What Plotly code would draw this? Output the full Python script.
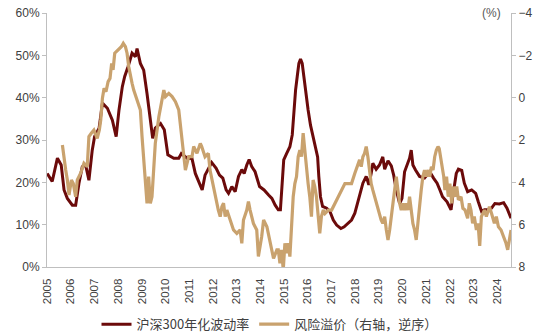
import plotly.graph_objects as go
import pandas as pd

# --- data (fractional year, value) ---
vol_years = [2005.01, 2005.22, 2005.44, 2005.60, 2005.72, 2005.86, 2006.07, 2006.21, 2006.35, 2006.49,
             2006.63, 2006.77, 2006.91, 2007.01, 2007.20, 2007.34, 2007.55, 2007.76, 2007.92, 2008.04,
             2008.18, 2008.28, 2008.42, 2008.59, 2008.73, 2008.80, 2008.94, 2009.08, 2009.22, 2009.36,
             2009.46, 2009.57, 2009.79, 2009.95, 2010.10, 2010.35, 2010.56, 2010.67, 2010.91, 2011.12,
             2011.26, 2011.43, 2011.55, 2011.67, 2011.95, 2012.14, 2012.28, 2012.42, 2012.56, 2012.66,
             2012.80, 2012.94, 2013.08, 2013.22, 2013.32, 2013.43, 2013.53, 2013.64, 2013.78, 2013.97,
             2014.16, 2014.35, 2014.49, 2014.63, 2014.76, 2014.85, 2014.92, 2014.99, 2015.11, 2015.25,
             2015.35, 2015.42, 2015.49, 2015.56, 2015.63, 2015.70, 2015.77, 2015.84, 2015.91, 2016.02,
             2016.12, 2016.23, 2016.35, 2016.42, 2016.47, 2016.54, 2016.63, 2016.80, 2016.94, 2017.08,
             2017.22, 2017.40, 2017.54, 2017.71, 2017.85, 2017.99, 2018.10, 2018.19, 2018.33, 2018.47,
             2018.58, 2018.68, 2018.75, 2018.89, 2019.03, 2019.17, 2019.25, 2019.39, 2019.53, 2019.63,
             2019.74, 2019.88, 2019.98, 2020.09, 2020.19, 2020.30, 2020.37, 2020.44, 2020.55, 2020.72,
             2020.93, 2021.15, 2021.31, 2021.46, 2021.58, 2021.69, 2021.88, 2022.05, 2022.12, 2022.19,
             2022.27, 2022.36, 2022.50, 2022.61, 2022.75, 2022.92, 2023.09, 2023.20, 2023.34, 2023.46,
             2023.62, 2023.76, 2023.90, 2024.09, 2024.27, 2024.41, 2024.51, 2024.58]
vol_values = [22.1, 20.2, 25.7, 24.1, 18.2, 16.2, 14.6, 14.6, 19.8, 23.7,
              24.1, 20.5, 27.6, 30.8, 32.8, 38.7, 37.5, 34.7, 30.8, 37.1,
              42.6, 45.0, 47.3, 50.5, 49.7, 51.6, 48.1, 46.5, 41.0, 34.7,
              30.4, 32.8, 33.9, 32.4, 26.5, 25.7, 25.7, 26.8, 25.7, 25.6,
              22.1, 19.8, 18.2, 21.7, 24.7, 23.3, 21.7, 21.0, 18.2, 17.4,
              19.0, 17.8, 21.4, 23.0, 22.1, 24.1, 25.4, 23.7, 22.5, 19.0,
              18.2, 17.0, 16.2, 14.6, 13.5, 13.5, 19.0, 25.3, 26.8, 28.4,
              31.2, 37.1, 41.8, 45.0, 48.1, 49.1, 48.1, 45.0, 41.4, 37.1,
              33.5, 30.8, 28.4, 26.0, 21.4, 16.6, 14.3, 13.9, 13.1, 11.1,
              9.9, 9.1, 9.5, 10.3, 11.1, 12.7, 15.0, 16.6, 19.8, 21.4,
              19.4, 22.1, 24.5, 23.1, 24.1, 26.0, 23.1, 25.1, 23.9, 21.7,
              18.2, 15.0, 16.2, 22.5, 24.1, 25.7, 27.6, 24.1, 22.9, 21.4,
              21.0, 22.5, 21.0, 19.8, 18.2, 16.6, 15.4, 13.5, 16.6, 19.8,
              22.1, 23.1, 22.8, 19.8, 17.8, 18.2, 17.4, 15.4, 13.1, 13.5,
              13.5, 13.9, 15.0, 14.9, 15.2, 13.9, 12.3, 11.5]

rp_years = [2005.65, 2005.72, 2005.79, 2005.86, 2005.93, 2006.03, 2006.11, 2006.21, 2006.28, 2006.42,
            2006.56, 2006.70, 2006.77, 2006.87, 2006.98, 2007.12, 2007.21, 2007.27, 2007.34, 2007.41,
            2007.49, 2007.58, 2007.66, 2007.73, 2007.79, 2007.86, 2008.00, 2008.14, 2008.22, 2008.31,
            2008.38, 2008.45, 2008.59, 2008.66, 2008.80, 2008.94, 2009.01, 2009.08, 2009.15, 2009.22,
            2009.29, 2009.36, 2009.43, 2009.50, 2009.57, 2009.72, 2009.86, 2009.93, 2010.00, 2010.14,
            2010.28, 2010.42, 2010.56, 2010.63, 2010.70, 2010.77, 2010.84, 2010.98, 2011.12, 2011.19,
            2011.33, 2011.47, 2011.53, 2011.67, 2011.81, 2011.88, 2012.02, 2012.16, 2012.23, 2012.31,
            2012.38, 2012.45, 2012.52, 2012.59, 2012.73, 2012.87, 2013.01, 2013.15, 2013.22, 2013.29,
            2013.43, 2013.50, 2013.57, 2013.71, 2013.85, 2013.92, 2014.06, 2014.14, 2014.28, 2014.42,
            2014.56, 2014.70, 2014.76, 2014.83, 2014.90, 2014.97, 2015.04, 2015.11, 2015.18, 2015.25,
            2015.32, 2015.39, 2015.46, 2015.53, 2015.60, 2015.67, 2015.74, 2015.81, 2015.88, 2015.95,
            2016.02, 2016.09, 2016.16, 2016.23, 2016.30, 2016.37, 2016.44, 2016.51, 2016.58, 2016.66,
            2016.73, 2016.87, 2017.01, 2017.15, 2017.29, 2017.43, 2017.57, 2017.71, 2017.85, 2017.99,
            2018.12, 2018.19, 2018.26, 2018.33, 2018.40, 2018.47, 2018.54, 2018.61, 2018.68, 2018.75,
            2018.82, 2018.89, 2018.96, 2019.03, 2019.10, 2019.17, 2019.25, 2019.32, 2019.39, 2019.46,
            2019.53, 2019.60, 2019.67, 2019.74, 2019.81, 2019.88, 2019.95, 2020.02, 2020.09, 2020.16,
            2020.23, 2020.30, 2020.37, 2020.44, 2020.51, 2020.58, 2020.65, 2020.72, 2020.79, 2020.86,
            2020.93, 2021.00, 2021.08, 2021.15, 2021.22, 2021.29, 2021.36, 2021.43, 2021.50, 2021.55,
            2021.65, 2021.74, 2021.79, 2021.86, 2021.93, 2022.00, 2022.08, 2022.15, 2022.22, 2022.29,
            2022.36, 2022.47, 2022.55, 2022.64, 2022.75, 2022.82, 2022.89, 2022.96, 2023.03, 2023.12,
            2023.19, 2023.26, 2023.33, 2023.46, 2023.54, 2023.67, 2023.76, 2023.88, 2023.96, 2024.05,
            2024.16, 2024.27, 2024.37, 2024.44, 2024.51, 2024.58]
rp_values = [2.24, 2.94, 3.42, 3.89, 4.60, 3.89, 4.06, 4.68, 3.89, 3.57,
             3.10, 3.26, 1.84, 1.68, 1.53, 1.92, 1.53, 1.05, 0.03, -0.44,
             -0.28, -0.76, -0.91, -1.62, -1.31, -2.10, -2.25, -2.41, -2.57, -2.41,
             -2.10, -1.46, -0.68, -0.36, 0.11, 0.58, 1.84, 2.79, 3.73, 4.99,
             3.73, 4.99, 4.68, 3.10, 2.16, 0.90, 0.11, -0.36, -0.05, -0.20,
             -0.05, 0.19, 0.58, 1.37, 2.16, 2.94, 3.42, 2.79, 2.79, 2.31,
             2.63, 2.16, 2.31, 2.79, 2.63, 3.42, 4.20, 4.83, 5.31, 5.62,
             5.15, 4.99, 5.62, 5.31, 5.78, 6.25, 6.41, 6.25, 6.88, 5.78,
             5.31, 4.91, 5.31, 5.94, 6.25, 7.50, 6.56, 5.78, 6.10, 6.88,
             7.60, 7.19, 7.19, 7.83, 7.19, 8.14, 6.88, 7.35, 6.88, 7.51,
             5.94, 4.68, 4.06, 3.73, 2.79, 2.48, 2.79, 1.68, 2.48, 3.42,
             4.06, 4.68, 5.62, 3.89, 4.20, 4.68, 5.62, 6.41, 5.62, 5.31,
             5.47, 5.31, 5.31, 4.99, 4.68, 4.37, 4.06, 4.06, 4.06, 3.57,
             3.10, 2.94, 3.26, 2.79, 2.63, 2.31, 2.79, 3.42, 4.06, 4.37,
             4.68, 4.99, 5.31, 5.62, 5.78, 5.94, 5.62, 6.25, 6.72, 6.25,
             5.62, 4.99, 4.37, 3.73, 4.37, 4.99, 5.31, 4.99, 5.31, 4.99,
             5.31, 4.68, 5.31, 5.94, 6.25, 6.72, 5.94, 4.99, 4.37, 3.73,
             3.42, 3.73, 3.42, 3.73, 3.26, 3.42, 2.79, 2.48, 2.31, 2.40,
             3.10, 3.73, 4.37, 3.73, 4.68, 4.06, 4.99, 4.20, 4.68, 4.20,
             4.83, 4.68, 5.23, 5.31, 5.70, 4.99, 5.31, 5.94, 5.62, 6.25,
             5.94, 7.00, 5.62, 5.31, 5.62, 5.15, 5.47, 5.94, 5.62, 6.10,
             6.25, 6.56, 6.88, 7.19, 6.72, 6.25]

year_ticks = list(range(2005, 2025))
vol_name = "沪深300年化波动率"
rp_name = "风险溢价（右轴，逆序）"


def to_dates(years):
    out = []
    for y in years:
        yi = int(y)
        start = pd.Timestamp(year=yi, month=1, day=1)
        end = pd.Timestamp(year=yi + 1, month=1, day=1)
        out.append(start + (end - start) * (y - yi))
    return out


MAROON = "#6B0A0A"
PEACH = "#C9A26E"
AXIS = "#BFBFBF"
TXT = "#404040"
FONT = "Liberation Sans, Arial, Noto Sans CJK SC, sans-serif"

fig = go.Figure()
fig.add_trace(go.Scatter(x=to_dates(vol_years), y=vol_values, name=vol_name, mode="lines",
                         line=dict(color=MAROON, width=3)))
fig.add_trace(go.Scatter(x=to_dates(rp_years), y=rp_values, name=rp_name, mode="lines",
                         line=dict(color=PEACH, width=3.2), yaxis="y2"))

fig.update_layout(
    width=550, height=336,
    margin=dict(l=47, r=39, t=13, b=69),
    paper_bgcolor="white", plot_bgcolor="white",
    font=dict(family=FONT, size=12, color=TXT),
    showlegend=True,
    legend=dict(orientation="h", x=0.49, xanchor="center", xref="container",
                y=0.035, yanchor="middle", yref="container",
                font=dict(size=13, family="Noto Sans CJK SC, Liberation Sans, sans-serif", color=TXT),
                itemwidth=30, tracegroupgap=0),
    xaxis=dict(type="date", automargin=False,
               range=[pd.Timestamp("2005-01-01"), pd.Timestamp("2024-07-31")],
               tickvals=[pd.Timestamp(year=y, month=1, day=1) for y in year_ticks],
               ticktext=[str(y) for y in year_ticks],
               tickangle=-90, tickfont=dict(size=11.5), ticklabelstandoff=6,
               showline=True, linecolor=AXIS, linewidth=1,
               ticks="", showgrid=False, zeroline=False),
    yaxis=dict(range=[0, 60], dtick=10, ticksuffix="%", automargin=False,
               showline=True, linecolor=AXIS, linewidth=1,
               ticks="outside", ticklen=4, tickcolor=AXIS,
               showgrid=False, zeroline=False, tickfont=dict(size=12)),
    yaxis2=dict(range=[8, -4], dtick=2, overlaying="y", side="right", automargin=False,
                showline=True, linecolor=AXIS, linewidth=1,
                ticks="outside", ticklen=4, tickcolor=AXIS,
                showgrid=False, zeroline=False, tickfont=dict(size=12)),
    annotations=[dict(text="(%)", xref="paper", yref="paper", x=1, y=1,
                      xanchor="right", yanchor="middle", xshift=-8, showarrow=False,
                      font=dict(size=12, color="#595959"))],
)

fig.write_html("out.html")
